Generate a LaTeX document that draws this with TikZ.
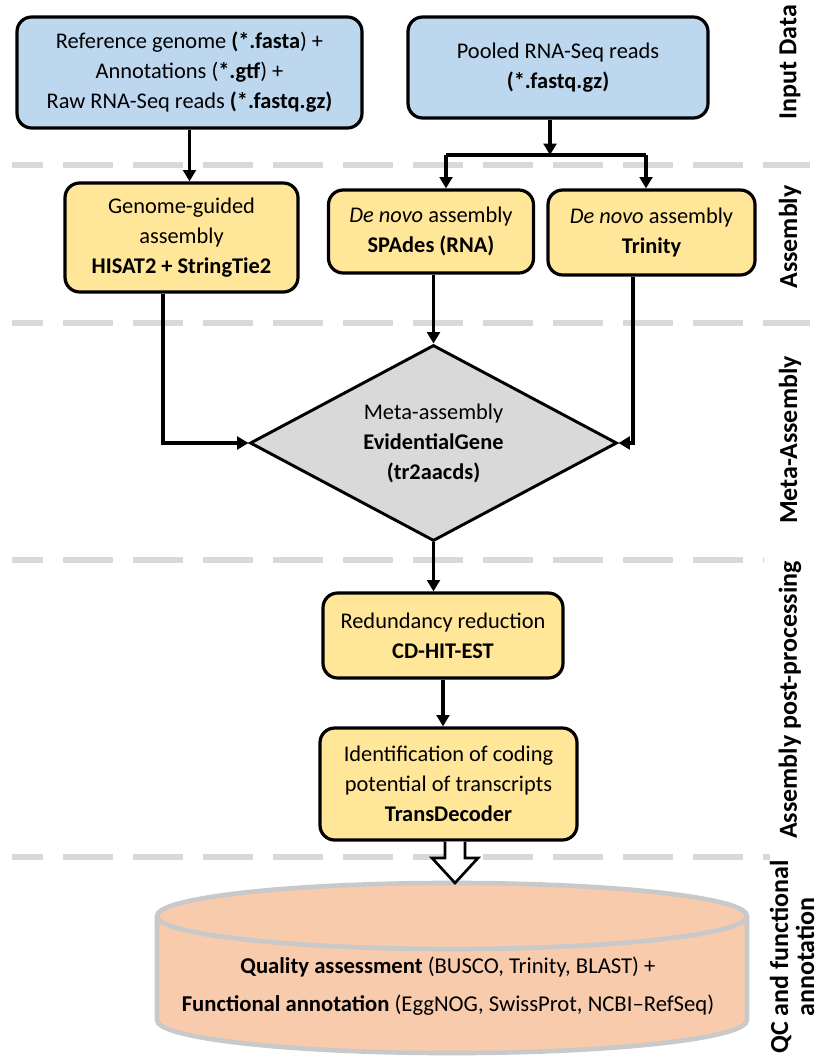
\documentclass[tikz,border=0pt]{standalone}
\usepackage{fontspec}
\setmainfont{Carlito}
\usetikzlibrary{arrows.meta,shapes.geometric}
\definecolor{blueF}{HTML}{BDD7EE}
\definecolor{yellowF}{HTML}{FFE699}
\definecolor{grayF}{HTML}{D9D9D9}
\definecolor{sepgray}{HTML}{D9D9D9}
\definecolor{peach}{HTML}{F8CBAD}
\definecolor{cylline}{HTML}{C9C9C9}
\newcommand{\mainsz}{\fontsize{16.8}{22.5}\selectfont}
\newcommand{\sidesz}{\fontsize{19.5}{19.5}\selectfont}
\tikzset{
  box/.style={draw=black, line width=2.4pt, rounded corners=11pt, align=center, inner sep=0pt, font=\mainsz},
  inbox/.style={box, fill=blueF},
  asmbox/.style={box, fill=yellowF},
  arr/.style={line width=2.3pt, -{Triangle[length=8.5pt,width=9.5pt]}},
  plainline/.style={line width=2.3pt},
  sepline/.style={line width=5pt, draw=sepgray, dash pattern=on 37.5pt off 15pt, dash phase=14.25pt},
  sidelabel/.style={rotate=90, font=\bfseries\sidesz, align=center, inner sep=0pt}
}
\begin{document}
\begin{tikzpicture}[x=0.75pt,y=-0.75pt]
\useasboundingbox (0,0) rectangle (819,1056);

% separators
\draw[sepline] (12,165) -- (810,165);
\draw[sepline] (12,323) -- (810,323);
\draw[sepline] (12,560) -- (764,560);
\draw[sepline] (12,857) -- (770,857);

% nodes
\node[inbox, minimum width=258.75pt, minimum height=83.25pt] (tl) at (189.5,72.5)
  {Reference genome \textbf{(*.fasta}) +\\Annotations (\textbf{*.gtf}) +\\Raw RNA-Seq reads \textbf{(*.fastq.gz)}};
\node[inbox, minimum width=225pt, minimum height=75.75pt] (tr) at (558,67.5)
  {Pooled RNA-Seq reads\\\textbf{(*.fastq.gz)}};
\node[asmbox, minimum width=174.75pt, minimum height=81.75pt] (gg) at (181.5,237.5)
  {Genome-guided\\assembly\\\textbf{HISAT2 + StringTie2}};
\node[asmbox, minimum width=153.75pt, minimum height=62.25pt] (sp) at (431,231.5)
  {\textit{De novo} assembly\\\textbf{SPAdes (RNA)}};
\node[asmbox, minimum width=155.25pt, minimum height=63.75pt] (tn) at (651.5,232.5)
  {\textit{De novo} assembly\\\textbf{Trinity}};
\node[diamond, draw=black, line width=2.2pt, fill=grayF, aspect=1.87, inner sep=0pt,
      minimum width=275.25pt, minimum height=147pt, align=center, font=\mainsz] (dia) at (433.5,443)
  {Meta-assembly\\\textbf{EvidentialGene}\\\textbf{(tr2aacds)}};
\node[asmbox, minimum width=180pt, minimum height=63.75pt] (cd) at (443,635.5)
  {Redundancy reduction\\\textbf{CD-HIT-EST}};
\node[asmbox, minimum width=192.75pt, minimum height=84pt] (td) at (448.5,784)
  {Identification of coding\\potential of transcripts\\\textbf{TransDecoder}};

% connectors
\draw[arr] (tl.south) -- (tl.south |- gg.north);
\coordinate (split) at (550,155);
\coordinate (bl) at (446,155);
\coordinate (br) at (646,155);
\draw[arr] (split |- tr.south) -- (split);
\draw[plainline] (bl) -- (br);
\draw[arr] (bl) -- (bl |- sp.north);
\draw[arr] (br) -- (br |- tn.north);
\draw[arr] (dia.north |- sp.south) -- (dia.north);
\coordinate (tnx) at (633,0);
\draw[arr] (tnx |- tn.south) |- (dia.east);
\coordinate (ggx) at (163,0);
\draw[arr] (ggx |- gg.south) |- (dia.west);
\draw[arr] (dia.south) -- (dia.south |- cd.north);
\draw[arr] (cd.south) -- (cd.south |- td.north);

% cylinder
\coordinate (cyltop) at (455,883);
\fill[peach] (157,916) -- (157,1020) arc[start angle=180,end angle=360,x radius=221.25pt,y radius=24.75pt]
  -- (747,916) arc[start angle=0,end angle=180,x radius=221.25pt,y radius=24.75pt] -- cycle;
\draw[cylline, line width=3.5pt] (157,916) -- (157,1020) arc[start angle=180,end angle=360,x radius=221.25pt,y radius=24.75pt]
  -- (747,916) arc[start angle=0,end angle=180,x radius=221.25pt,y radius=24.75pt] -- cycle;
\draw[cylline, line width=3.5pt] (157,916) arc[start angle=180,end angle=360,x radius=221.25pt,y radius=24.75pt];
\node[align=center, font=\fontsize{17}{28}\selectfont, inner sep=0pt] (cyl) at (448,986)
  {\textbf{Quality assessment} (BUSCO, Trinity, BLAST) +\\\textbf{Functional annotation} (EggNOG, SwissProt, NCBI--RefSeq)};

% block arrow
\draw[line width=2pt, fill=white] (445,841.5) -- (445,858) -- (432,858) -- (cyltop) -- (478,858) -- (465,858) -- (465,841.5);

% side labels
\node[sidelabel] (l1) at (790,62) {Input Data};
\node[sidelabel] (l2) at (790,237) {Assembly};
\node[sidelabel] (l3) at (790,440) {Meta-Assembly};
\node[sidelabel] (l4) at (790,700) {Assembly post-processing};
\node[sidelabel] (l5) at (792,957) {QC and functional\\annotation};
\end{tikzpicture}
\end{document}
